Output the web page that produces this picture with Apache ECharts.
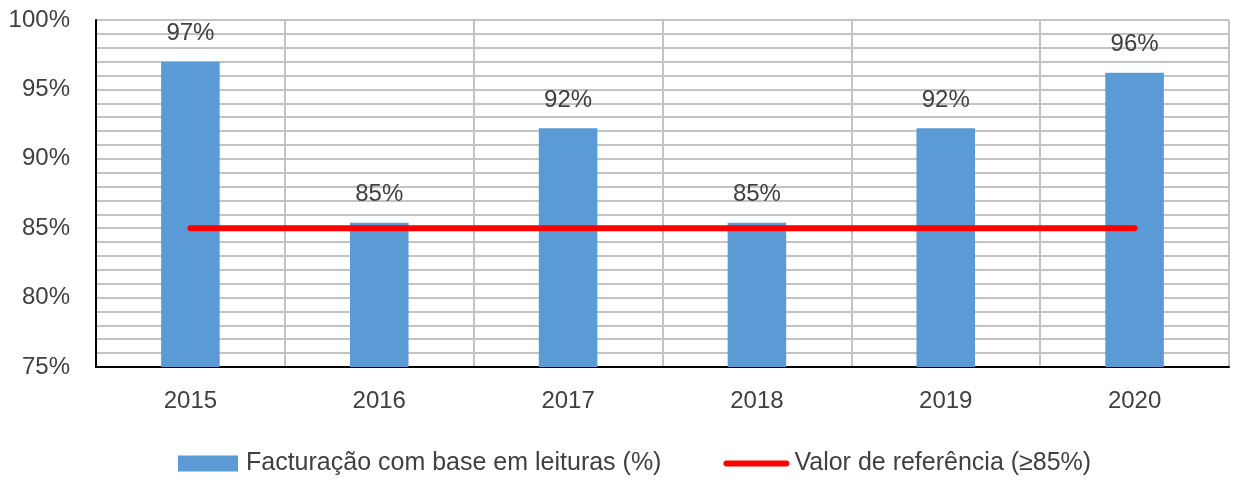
<!DOCTYPE html>
<html>
<head>
<meta charset="utf-8">
<script src="https://cdn.jsdelivr.net/npm/echarts@6/dist/echarts.min.js"></script>
<style>
html, body { margin: 0; padding: 0; background: #fff; }
#chart { width: 1234px; height: 480px; }
</style>
</head>
<body>
<div id="chart"></div>
<script>
var years = ['2015', '2016', '2017', '2018', '2019', '2020']
var billingValues = [97.0, 85.4, 92.2, 85.4, 92.2, 96.2]
var billingLabels = ['97%', '85%', '92%', '85%', '92%', '96%']
var referenceValues = [85, 85, 85, 85, 85, 85]
var billingName = 'Facturação com base em leituras (%)'
var referenceName = 'Valor de referência (≥85%)'

var font = 'Liberation Sans'
var textColor = '#404040'
var gridColor = '#c3c3c3'

var myEchart = echarts.init(document.getElementById('chart'))
var option = {
	animation: false,
	grid: {
		left: 96,
		right: 5,
		top: 20,
		bottom: 113
	},
	legend: {
		left: 173,
		top: 446,
		itemWidth: 60,
		itemHeight: 16,
		itemGap: 62,
		textStyle: {
			fontFamily: font,
			fontSize: 25,
			color: textColor,
			padding: [0, 0, 0, 3]
		},
		data: [{
			name: billingName,
			icon: 'rect'
		}, {
			name: referenceName,
			lineStyle: { width: 6, cap: 'round', color: '#ff0000' },
			itemStyle: { opacity: 0 }
		}]
	},
	xAxis: {
		type: 'category',
		data: years,
		axisLine: {
			lineStyle: { color: '#000', width: 2 }
		},
		axisTick: { show: false },
		splitLine: {
			show: true,
			lineStyle: { color: gridColor, width: 2 }
		},
		axisLabel: {
			margin: 22,
			fontFamily: font,
			fontSize: 24,
			color: textColor
		}
	},
	yAxis: {
		type: 'value',
		min: 75,
		max: 100,
		interval: 5,
		axisLine: {
			show: true,
			lineStyle: { color: '#000', width: 2 }
		},
		axisTick: { show: false },
		minorTick: { show: false, splitNumber: 5 },
		splitLine: {
			lineStyle: { color: gridColor, width: 2 }
		},
		minorSplitLine: {
			show: true,
			lineStyle: { color: gridColor, width: 2 }
		},
		axisLabel: {
			margin: 26,
			fontFamily: font,
			fontSize: 24,
			color: textColor,
			formatter: '{value}%'
		}
	},
	series: [{
		name: billingName,
		type: 'bar',
		data: billingValues,
		barWidth: '31%',
		itemStyle: { color: '#5b9bd5' },
		label: {
			show: true,
			position: 'top',
			distance: 16,
			fontFamily: font,
			fontSize: 24,
			color: textColor,
			formatter: function(params) {
				return billingLabels[params.dataIndex]
			}
		}
	}, {
		name: referenceName,
		type: 'line',
		data: referenceValues,
		symbol: 'none',
		z: 5,
		lineStyle: {
			color: '#ff0000',
			width: 6,
			cap: 'round'
		},
		itemStyle: { color: '#ff0000' }
	}]
}
myEchart.setOption(option)
</script>
</body>
</html>
